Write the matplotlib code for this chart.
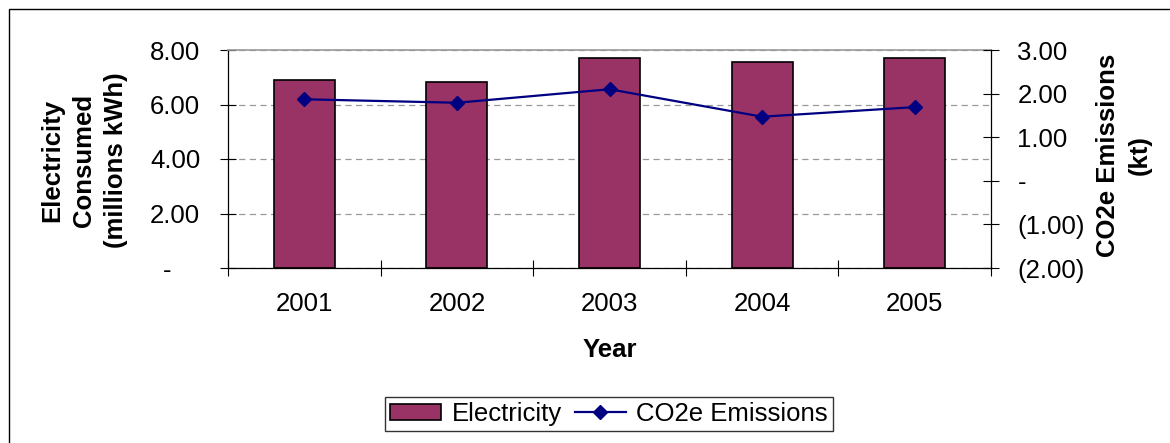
import matplotlib
matplotlib.use("Agg")
import matplotlib.pyplot as plt
from matplotlib.lines import Line2D
from matplotlib.patches import Patch, Rectangle

plt.rcParams['font.family'] = ['Liberation Sans', 'DejaVu Sans']

years = ["2001", "2002", "2003", "2004", "2005"]
electricity = [6.90, 6.84, 7.70, 7.55, 7.70]
co2e = [1.87, 1.79, 2.10, 1.47, 1.69]

left_ticks = [0, 2, 4, 6, 8]
left_labels = ["-    ", "2.00", "4.00", "6.00", "8.00"]
right_ticks = [-2, -1, 0, 1, 2, 3]
right_labels = ["(2.00)", "(1.00)", "-", "1.00", "2.00", "3.00"]

BAR = "#993366"
LINE = "#000080"
FS = 18.5
FSB = 18.5

fig = plt.figure(figsize=(11.7, 4.43), dpi=100)
W, H = 1170, 443

# chart area border
fig.patches.append(Rectangle((9 / W, -0.05), 1.2, 1 - 9 / H + 0.05, transform=fig.transFigure,
                             fill=False, edgecolor="black", linewidth=1.0))

ax = fig.add_axes([228 / W, 1 - 268 / H, (991 - 228) / W, (268 - 50) / H])
x = list(range(len(years)))
ax.bar(x, electricity, width=0.4, color=BAR, edgecolor="black", linewidth=1.2, zorder=2)
ax.set_xlim(-0.5, len(years) - 0.5)
ax.set_ylim(0, 8)
ax.set_yticks(left_ticks)
ax.set_yticklabels(left_labels)
ax.set_xticks(x)
ax.set_xticklabels(years)
ax.set_xticks([i - 0.5 for i in range(len(years) + 1)], minor=True)
ax.tick_params(axis="x", which="major", length=0, pad=17, labelsize=FS)
ax.tick_params(axis="x", which="minor", direction="inout", length=11.5, width=0.8)
ax.tick_params(axis="y", direction="inout", length=11, width=0.8, pad=14.5, labelsize=FS)
ax.set_axisbelow(True)
ax.yaxis.grid(True, linestyle=(0, (5, 3.5)), color="#999999", linewidth=0.9)
for s in ["left", "bottom"]:
    ax.spines[s].set_color("black")
    ax.spines[s].set_linewidth(0.9)
ax.spines["top"].set_color("#999999")
ax.spines["top"].set_linewidth(1.2)
ax.spines["right"].set_visible(False)

ax2 = ax.twinx()
ax2.plot(x, co2e, color=LINE, linewidth=1.6, marker="D", markersize=7,
         markerfacecolor=LINE, markeredgecolor=LINE, zorder=3)
ax2.set_ylim(-2, 3)
ax2.set_yticks(right_ticks)
ax2.set_yticklabels(right_labels)
ax2.tick_params(axis="y", direction="inout", length=12, width=0.8, pad=13, labelsize=FS)
for s in ["left", "top", "bottom"]:
    ax2.spines[s].set_visible(False)
ax2.spines["right"].set_color("black")
ax2.spines["right"].set_linewidth(0.9)

fig.text(84 / W, 1 - 160 / H, "Electricity\nConsumed\n(millions kWh)", rotation=90,
         ha="center", va="center", multialignment="center", fontsize=FSB,
         fontweight="bold", linespacing=1.4)
fig.text(1124 / W, 1 - 155 / H, "CO2e Emissions\n(kt)", rotation=90,
         ha="center", va="center", multialignment="center", fontsize=FSB,
         fontweight="bold", linespacing=1.4)
fig.text(610 / W, 1 - 350 / H, "Year", ha="center", va="center", fontsize=FSB,
         fontweight="bold")

handles = [Patch(facecolor=BAR, edgecolor="black", linewidth=1.2),
           Line2D([], [], color=LINE, linewidth=1.6, marker="D", markersize=7,
                  markerfacecolor=LINE, markeredgecolor=LINE)]
leg = fig.legend(handles, ["Electricity", "CO2e Emissions"], loc="center",
                 bbox_to_anchor=(609 / W, 1 - 414 / H), ncol=2, frameon=True,
                 fancybox=False, fontsize=FS, handlelength=2.0, handleheight=0.6,
                 handletextpad=0.4, columnspacing=0.5, borderpad=0.2, borderaxespad=0)
leg.get_frame().set_edgecolor("black")
leg.get_frame().set_linewidth(1.0)

fig.savefig("out.png", dpi=100)
